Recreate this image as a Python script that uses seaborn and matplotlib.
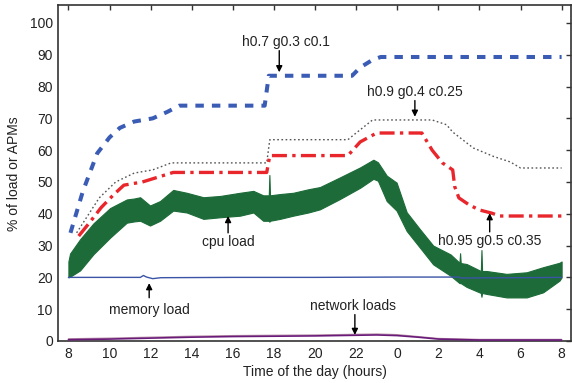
import numpy as np
import pandas as pd
import matplotlib
matplotlib.use("Agg")
import matplotlib.pyplot as plt
import seaborn as sns

# ---------------- data (hours since midnight of first day; 24+ = next day) ----
blue_x = [8.1, 8.7, 9.4, 10.0, 10.5, 11.2, 12.1, 12.8, 13.4, 17.55, 17.75, 21.8, 22.2, 22.8, 23.2, 32.0]
blue_y = [34, 47, 59, 64, 67, 69, 70, 72, 74, 74, 83.4, 83.4, 86, 88.4, 89.3, 89.3]

red_x = [8.5, 9.0, 9.6, 10.2, 10.7, 11.6, 12.6, 13.1, 17.65, 17.8, 21.6, 22.2, 23.0, 25.2, 25.7, 26.2, 26.7,
         26.8, 27.0, 27.5, 28.0, 28.6, 29.0, 32.0]
red_y = [33, 37, 42, 46, 49, 50, 52, 53, 53, 58.3, 58.3, 62.6, 65.4, 65.4, 60, 56, 53.8,
         48.5, 45, 42.8, 41.2, 40.2, 39.3, 39.3]

blk_x = [8.4, 9.0, 9.5, 10.3, 11.2, 12.1, 13.0, 17.65, 17.8, 21.6, 22.0, 22.8, 25.7, 26.4, 26.7, 27.7, 28.7,
         29.5, 30.0, 32.0]
blk_y = [34, 40, 45, 50, 52.8, 53.8, 56, 56, 63.3, 63.3, 65.4, 69.5, 69.5, 68, 65.7, 60.7, 58,
         56.3, 54.4, 54.4]

cpu_x = [8.0, 8.08, 8.57, 9.22, 10.03, 10.84, 11.2, 11.49, 11.97, 12.46, 13.1, 13.76, 14.57, 15.38, 16.35,
         17.0, 17.48, 17.75, 17.78, 17.81, 18.3, 18.94, 19.67, 20.24, 21.2, 22.2, 22.84, 23.06, 23.49,
         23.97, 24.46, 25.1, 25.75, 26.6, 27.03, 27.06, 27.09, 27.38, 28.07, 28.1, 28.13, 28.35, 29.32,
         30.3, 31.1, 31.9, 32.0]
cpu_hi = [25, 27.5, 32, 37, 41.8, 44.5, 44.8, 45.2, 42.6, 44, 47.5, 46.6, 45.2, 45.6, 46.6,
          47.2, 45.8, 45.8, 52.2, 45.8, 46.2, 46.6, 47.7, 48.4, 51.4, 54.6, 57, 56.2, 52,
          49.8, 40.5, 35.2, 30, 27.2, 24.6, 27.6, 24.5, 24.2, 22, 28.6, 22, 22, 21.1,
          21.6, 23.2, 24.6, 25]
cpu_lo = [20, 20.2, 22.2, 27.3, 32.5, 37.2, 37.6, 37.8, 36.3, 37.8, 41, 40.4, 38.4, 38.9, 39.4,
          40.4, 37.8, 37.8, 37.5, 37.8, 38.4, 39.4, 40.4, 41.4, 44.6, 48.2, 51, 50.4, 44,
          41, 34.6, 29.4, 24.1, 20.5, 18.2, 18.2, 18.2, 17, 15.1, 13.9, 15.1, 14.8, 13.7,
          13.7, 15.3, 19, 20]

mem_x = [8.0, 10.0, 11.5, 11.65, 11.8, 12.1, 12.5, 16.0, 20.0, 24.0, 27.0, 27.1, 30.0, 32.0]
mem_y = [20.0, 20.0, 20.0, 20.6, 20.1, 19.6, 19.9, 20.0, 20.0, 20.1, 20.1, 19.8, 19.9, 20.0]

net_x = [8, 10, 12, 14, 16, 18, 20, 22, 23, 24, 25, 26, 28, 30, 32]
net1_y = [0.4, 0.6, 0.9, 1.2, 1.4, 1.5, 1.6, 1.8, 1.9, 1.7, 1.2, 0.6, 0.3, 0.3, 0.3]
net2_y = [0.7, 0.9, 1.2, 1.5, 1.7, 1.8, 1.9, 2.1, 2.2, 2.0, 1.4, 0.8, 0.5, 0.5, 0.5]

xticks = [8, 10, 12, 14, 16, 18, 20, 22, 24, 26, 28, 30, 32]
xticklabels = ["8", "10", "12", "14", "16", "18", "20", "22", "0", "2", "4", "6", "8"]
yticks = [0, 10, 20, 30, 40, 50, 60, 70, 80, 90, 100]

# ---------------- style ----------------
sns.set_style("white")
plt.rcParams["font.family"] = ["Liberation Sans", "DejaVu Sans"]
TXT = "#222222"

fig = plt.figure(figsize=(5.72, 3.83), dpi=100)
ax = fig.add_axes([0.102, 0.1097, 0.896, 0.876])

# cpu band
ax.fill_between(cpu_x, cpu_lo, cpu_hi, color="#1c6b38", lw=0.8, edgecolor="#1c6b38", zorder=2)

# network loads
sns.lineplot(x=net_x, y=net2_y, ax=ax, color="#b890a8", lw=0.9, sort=False, estimator=None, zorder=3)
sns.lineplot(x=net_x, y=net1_y, ax=ax, color="#6a1b7a", lw=1.2, sort=False, estimator=None, zorder=3)

# memory load
sns.lineplot(x=mem_x, y=mem_y, ax=ax, color="#3b54a6", lw=1.0, sort=False, estimator=None, zorder=4)

# thresholds
sns.lineplot(x=blk_x, y=blk_y, ax=ax, color="#555555", lw=1.0, sort=False, estimator=None,
             linestyle=(0, (1.2, 1.8)), zorder=3)
sns.lineplot(x=red_x, y=red_y, ax=ax, color="#e8262b", lw=2.4, sort=False, estimator=None,
             linestyle=(0, (4.5, 1.6, 1.0, 1.6)), zorder=3)
sns.lineplot(x=blue_x, y=blue_y, ax=ax, color="#3a5cb5", lw=2.9, sort=False, estimator=None,
             linestyle=(0, (2.1, 2.0)), zorder=3)

ax.set_xlim(7.51, 32.45)
ax.set_ylim(0, 105.5)
ax.set_xticks(xticks)
ax.set_xticklabels(xticklabels)
ax.set_yticks(yticks)

for s in ax.spines.values():
    s.set_visible(True)
    s.set_color("#333333")
    s.set_linewidth(1.2)

ax.tick_params(direction="in", length=3.5, width=1.0, color="#333333", top=True, right=True,
               labelsize=10, labelcolor=TXT, pad=4)

ax.set_xlabel("Time of the day (hours)", fontsize=10, color=TXT, labelpad=3)
ax.set_ylabel("% of load or APMs", fontsize=10, color=TXT, labelpad=6)

arrow = dict(arrowstyle="-|>", color="black", lw=1.0, mutation_scale=9, shrinkA=0, shrinkB=0)

def note(text, tx, ty, ax_x, y0, y1):
    ax.text(tx, ty, text, fontsize=10, color=TXT, ha="center", va="center", zorder=6)
    ax.annotate("", xy=(ax_x, y1), xytext=(ax_x, y0), arrowprops=arrow, zorder=6)

note("h0.7 g0.3 c0.1", 18.6, 94.0, 18.26, 91.3, 84.5)
note("h0.9 g0.4 c0.25", 24.86, 78.3, 24.86, 75.6, 70.5)
note("h0.95 g0.5 c0.35", 28.5, 31.4, 28.5, 34.3, 40.2)
note("cpu load", 15.8, 31.1, 15.77, 34.0, 39.3)
note("memory load", 11.93, 9.7, 11.93, 13.6, 18.2)
note("network loads", 21.85, 11.0, 21.94, 8.3, 1.9)

fig.savefig("out.png", dpi=100)
